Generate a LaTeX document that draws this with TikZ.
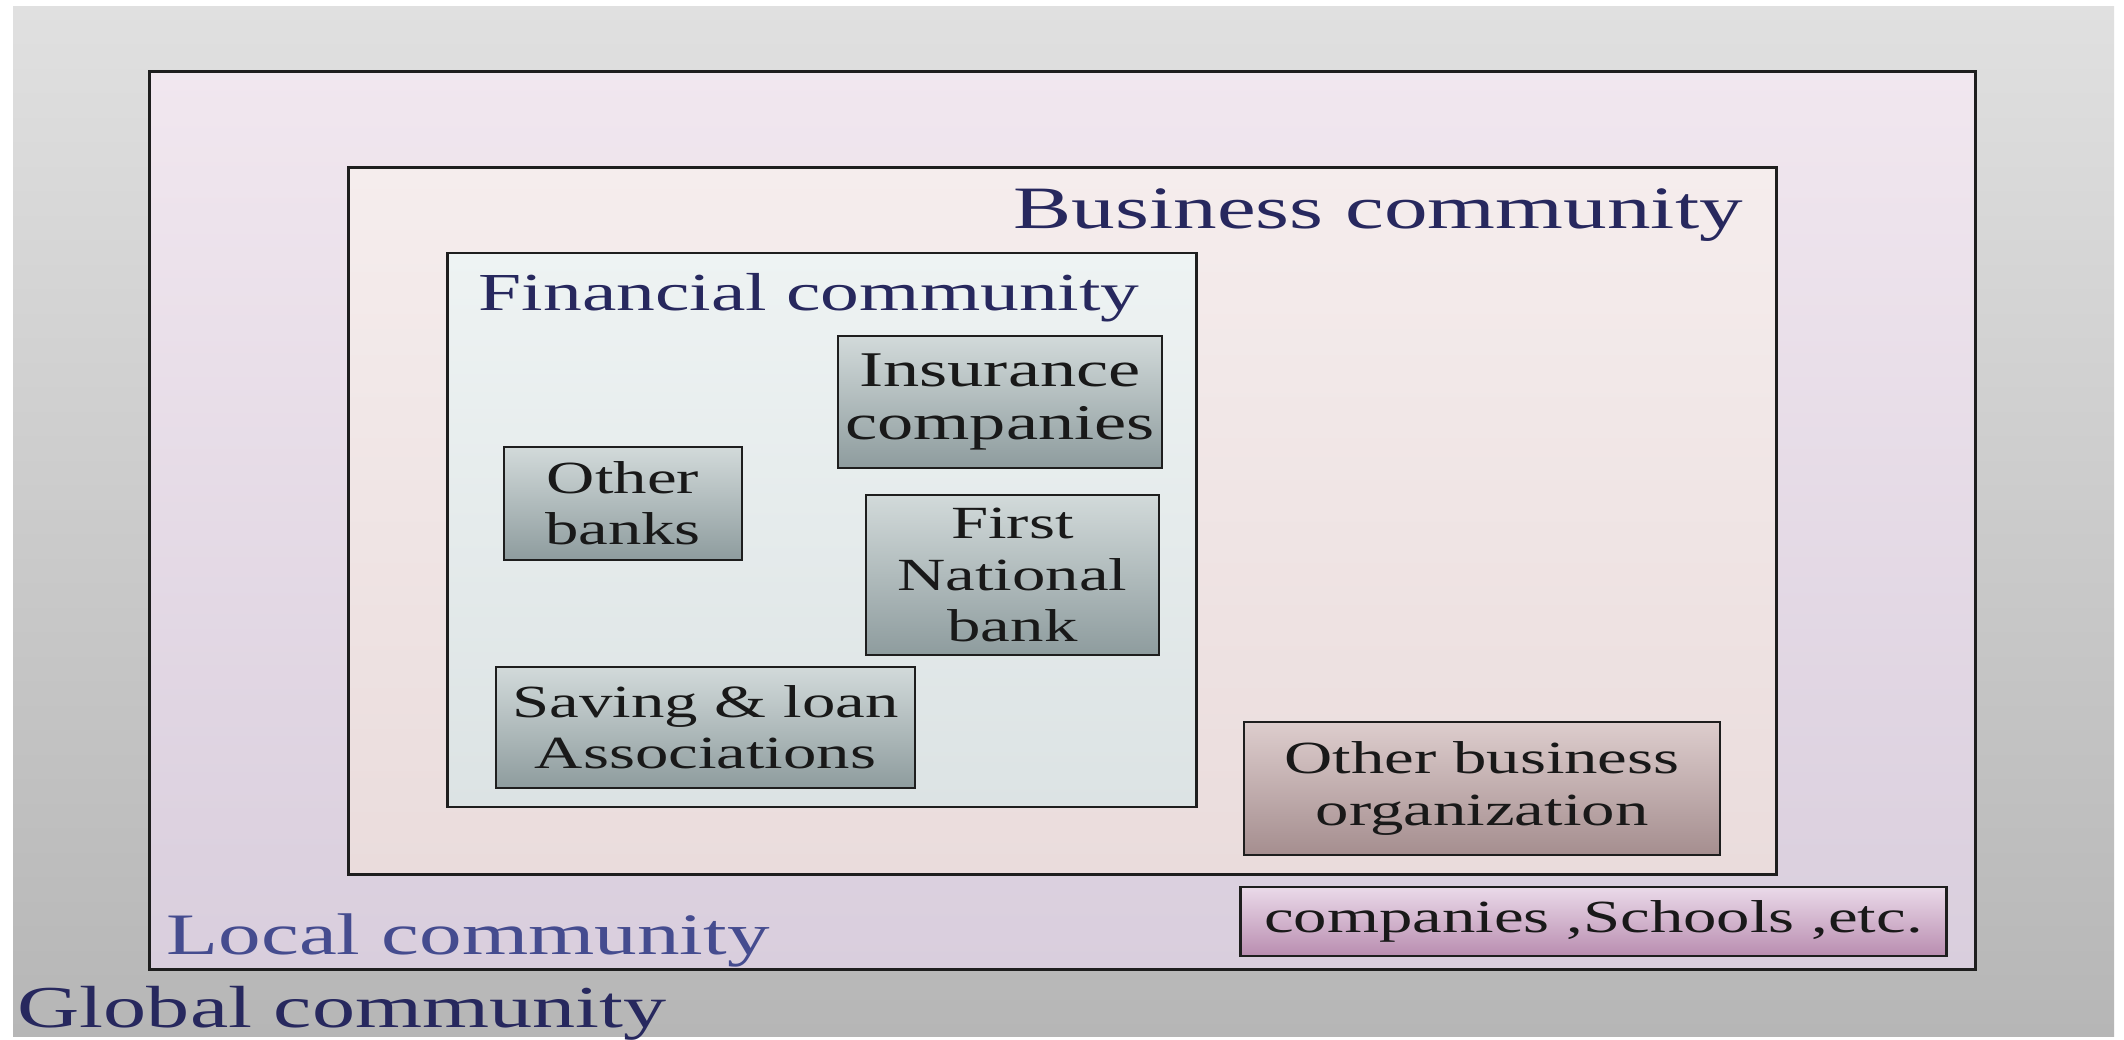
\documentclass[tikz,border=0pt]{standalone}
\usepackage{fontspec}
\setmainfont{Liberation Serif}[FakeStretch=1.45]
\definecolor{bgtop}{HTML}{E0E0E0}
\definecolor{bgbot}{HTML}{B6B6B6}
\definecolor{loctop}{HTML}{F1E7EF}
\definecolor{locbot}{HTML}{D9CEDD}
\definecolor{bustop}{HTML}{F5EDED}
\definecolor{busbot}{HTML}{EADCDC}
\definecolor{fintop}{HTML}{EEF3F3}
\definecolor{finbot}{HTML}{DCE3E4}
\definecolor{gtop}{HTML}{D2DADA}
\definecolor{gbot}{HTML}{8E9C9E}
\definecolor{obtop}{HTML}{DDCDCD}
\definecolor{obbot}{HTML}{A58E8F}
\definecolor{cotop}{HTML}{EADAE9}
\definecolor{cobot}{HTML}{B98DB0}
\definecolor{navy}{HTML}{27285E}
\definecolor{localblue}{HTML}{454C8F}
\definecolor{edge}{HTML}{1E1E1E}
\tikzset{
  region/.style={draw=edge, line width=0.75pt, inner sep=0pt},
  box/.style={draw=edge, line width=0.75pt, inner sep=0pt, align=center,
    text=black!90, font=\fontsize{13.1}{14.6}\selectfont},
  graybox/.style={box, top color=gtop, bottom color=gbot},
  title/.style={inner sep=0pt, anchor=base west, text=navy}
}
\begin{document}
\begin{tikzpicture}[x=0.01cm,y=-0.01cm]
\useasboundingbox (0,0) rectangle (2124,1040);
\fill[white] (0,0) rectangle (2124,1040);
\shade[top color=bgtop, bottom color=bgbot] (13,7) rectangle (2114,1036);

\node[region, top color=loctop, bottom color=locbot, minimum width=18.25cm, minimum height=8.97cm] (local) at (1062.5,520.5) {};
\node[region, top color=bustop, bottom color=busbot, minimum width=14.27cm, minimum height=7.06cm] (business) at (1062.5,521) {};
\node[region, top color=fintop, bottom color=finbot, minimum width=7.48cm, minimum height=5.54cm] (financial) at (822,530) {};

\node[graybox, minimum width=3.24cm, minimum height=1.32cm, font=\fontsize{14.2}{15.2}\selectfont] (insurance) at (1000,402) {Insurance\\companies};
\node[graybox, minimum width=2.38cm, minimum height=1.13cm] (otherbanks) at (623,503.5) {Other\\banks};
\node[graybox, minimum width=2.93cm, minimum height=1.60cm] (firstnat) at (1012.5,575) {First\\National\\bank};
\node[graybox, minimum width=4.19cm, minimum height=1.21cm] (saving) at (705.5,727.5) {Saving \& loan\\Associations};
\node[box, top color=obtop, bottom color=obbot, minimum width=4.76cm, minimum height=1.33cm] (otherbiz) at (1482,788.5) {Other business\\organization};
\node[box, top color=cotop, bottom color=cobot, minimum width=7.05cm, minimum height=0.69cm] (companies) at (1593.5,921.5) {companies ,Schools ,etc.};

\node[title, font=\fontsize{17.1}{20}\selectfont] (businesslbl) at (1013,229) {Business community};
\node[title, font=\fontsize{15.2}{18}\selectfont] (financiallbl) at (478,311) {Financial community};
\node[title, text=localblue, font=\fontsize{16.7}{20}\selectfont] (locallbl) at (166,954) {Local community};
\node[title, font=\fontsize{16.9}{20}\selectfont] (globallbl) at (17,1027) {Global community};
\end{tikzpicture}
\end{document}
